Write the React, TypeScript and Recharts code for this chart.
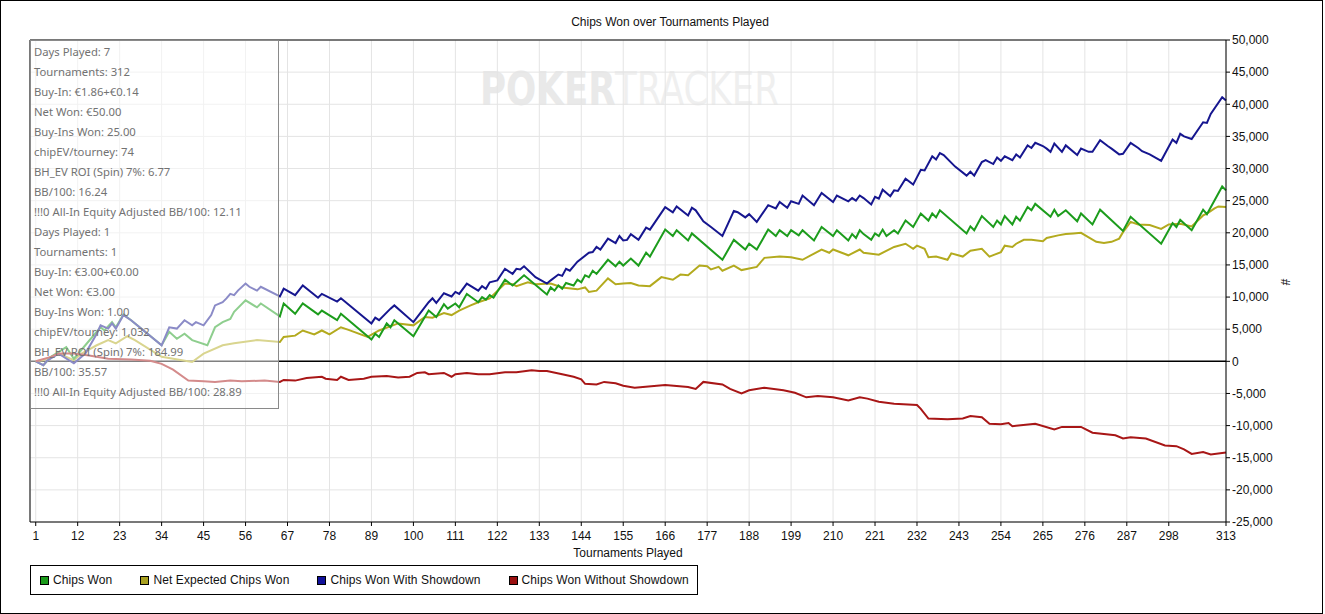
import { CartesianGrid, Line, LineChart, ReferenceLine, XAxis, YAxis } from "recharts";

// x ticks (tournament number) and y ticks (chips)
const tourneyTicks = [1, 12, 23, 34, 45, 56, 67, 78, 89, 100, 111, 122, 133, 144, 155, 166, 177, 188, 199, 210, 221, 232, 243, 254, 265, 276, 287, 298, 313];
const chipTicks = [-25000, -20000, -15000, -10000, -5000, 0, 5000, 10000, 15000, 20000, 25000, 30000, 35000, 40000, 45000, 50000];

// [tournament, chips]
const chipsWon = [
  [1, 0], [3, -600], [5, 700], [9, 2200], [11, 400], [14, 2500], [18, 5300], [19, 4800], [21, 6100], [22, 5300], [24, 7300], [26, 6400],
  [34, 2500], [36, 4600], [38, 3500], [40, 4300], [42, 3300], [46, 2500], [48, 5300], [50, 6100], [52, 6600], [53, 7700], [56, 9500],
  [59, 8400], [60, 9000], [65, 7000], [66, 9000], [69, 7400], [71, 9000], [75, 7300], [76, 7900], [80, 6400], [81, 7400], [89, 3400],
  [90, 4300], [91, 3800], [93, 5900], [94, 5300], [95, 6400], [100, 3900], [104, 7900], [106, 6900], [108, 8900], [109, 8200], [111, 9000],
  [112, 8400], [114, 10500], [117, 9200], [118, 10000], [119, 9600], [120, 10300], [121, 9900], [124, 12700], [126, 11800], [129, 13400],
  [135, 10400], [136, 11500], [137, 11000], [138, 11800], [139, 11300], [140, 12200], [142, 11800], [143, 12700], [144, 12300], [145, 13400],
  [146, 13100], [147, 14100], [148, 13600], [151, 15800], [153, 14800], [154, 15500], [155, 14900], [157, 16000], [159, 14900], [161, 16900],
  [162, 16300], [166, 20500], [168, 19500], [169, 20400], [172, 18800], [173, 19900], [181, 15800], [184, 18900], [187, 17400], [188, 18300],
  [190, 17400], [193, 20500], [195, 19500], [196, 20400], [198, 19500], [199, 20400], [201, 19600], [202, 20400], [205, 18800], [207, 20900],
  [210, 19500], [211, 20400], [214, 18800], [215, 19800], [216, 19200], [217, 20400], [218, 19800], [220, 18900], [221, 19900], [222, 19500],
  [223, 20500], [224, 19500], [226, 20400], [227, 19900], [229, 21900], [231, 20900], [233, 23000], [235, 21900], [236, 23000], [237, 22400],
  [238, 23500], [245, 19900], [246, 21000], [247, 20400], [249, 22600], [252, 20900], [253, 21900], [254, 21300], [255, 22600], [257, 21300],
  [258, 22500], [259, 21900], [261, 24000], [262, 23500], [263, 24500], [267, 22500], [268, 23600], [269, 22600], [271, 23500], [274, 21800],
  [275, 23000], [278, 21300], [280, 23600], [286, 20300], [288, 22500], [296, 18300], [299, 21500], [300, 20900], [301, 22000], [304, 20400],
  [307, 23600], [308, 22900], [312, 27200], [313, 26600],
];

const netExpected = [
  [1, 0], [3, 200], [7, 1200], [11, 200], [13, 1200], [17, 2500], [20, 3300], [22, 2800], [25, 3900], [27, 3300], [34, 700], [42, -100],
  [45, 1200], [50, 2500], [53, 2800], [59, 3300], [65, 3000], [66, 3800], [69, 4000], [71, 4800], [74, 4200], [76, 4800], [78, 4200],
  [81, 5300], [83, 4900], [88, 3800], [91, 4800], [96, 5900], [100, 5600], [103, 6900], [105, 6800], [108, 7500], [110, 7200], [112, 7900],
  [115, 8700], [117, 9200], [120, 9800], [124, 12100], [126, 12000], [127, 11700], [130, 12300], [132, 12000], [136, 12100], [139, 11500],
  [143, 11200], [145, 11500], [146, 10800], [148, 11000], [151, 12900], [153, 12000], [155, 12100], [157, 12200], [159, 11800], [162, 11700],
  [165, 13100], [168, 12700], [170, 13500], [172, 13400], [175, 14900], [177, 14800], [178, 14300], [180, 14700], [181, 14100], [184, 14900],
  [186, 14200], [190, 14700], [192, 16100], [196, 16300], [199, 16200], [202, 15800], [207, 17400], [209, 16900], [210, 17400], [214, 16500],
  [217, 17400], [218, 16900], [222, 16600], [226, 17800], [229, 18300], [231, 17500], [232, 18000], [234, 17500], [235, 16200], [237, 16300],
  [240, 15800], [241, 16800], [244, 16300], [246, 17200], [249, 17500], [251, 16300], [254, 17000], [255, 18000], [257, 17800], [258, 18300],
  [260, 18900], [262, 18900], [265, 18700], [266, 19200], [269, 19600], [271, 19800], [273, 19900], [275, 20000], [277, 19300], [279, 18600],
  [281, 18400], [283, 18600], [285, 19100], [286, 20100], [288, 21700], [290, 21300], [293, 21200], [296, 20600], [298, 21300], [301, 21400],
  [304, 21000], [307, 22700], [308, 23000], [310, 23800], [311, 24100], [313, 24000],
];

const withShowdown = [
  [1, 0], [3, -600], [4, 100], [7, 1200], [11, -300], [14, 1200], [17, 4300], [18, 5600], [20, 5100], [21, 5900], [22, 5100], [24, 7200],
  [26, 6400], [34, 2500], [36, 5300], [38, 5100], [40, 6400], [42, 5600], [43, 6100], [45, 5600], [47, 7200], [48, 8700], [50, 9200],
  [51, 9800], [52, 10500], [53, 10300], [54, 11000], [56, 12100], [57, 11600], [59, 11000], [60, 11600], [65, 10100], [66, 11300],
  [69, 10300], [71, 11800], [75, 9900], [76, 10500], [80, 9300], [81, 9800], [89, 5900], [90, 6800], [91, 6400], [94, 8200], [95, 8700],
  [100, 6100], [104, 9200], [105, 9800], [106, 9100], [108, 10600], [110, 10100], [111, 10800], [112, 10500], [114, 12100], [117, 11000],
  [118, 11700], [119, 11300], [120, 12300], [122, 12600], [124, 14400], [126, 13600], [127, 14400], [128, 14300], [129, 14800], [132, 13100],
  [135, 12100], [136, 12600], [138, 13500], [139, 13300], [140, 14400], [141, 14100], [143, 15500], [146, 16900], [147, 17000], [148, 17800],
  [149, 17400], [151, 19100], [153, 18400], [154, 19500], [155, 18800], [156, 18900], [157, 19800], [159, 18900], [161, 20800], [162, 20500],
  [166, 24000], [168, 23200], [169, 24100], [172, 22700], [173, 23900], [174, 23500], [176, 21800], [178, 20900], [181, 19500], [184, 23400],
  [185, 23200], [187, 22400], [188, 22900], [190, 21700], [193, 24300], [195, 23800], [196, 24800], [198, 23900], [199, 24900], [201, 24500],
  [202, 25800], [205, 24300], [207, 26200], [210, 24800], [211, 25800], [214, 24900], [215, 25400], [216, 25000], [217, 25800], [218, 25400],
  [220, 24400], [221, 25600], [222, 25300], [223, 26700], [225, 25700], [226, 26600], [227, 26500], [229, 28400], [231, 27500], [233, 29800],
  [234, 29700], [236, 31900], [237, 31400], [238, 32400], [239, 32100], [242, 30300], [245, 28900], [246, 29500], [247, 28900], [249, 31000],
  [250, 31300], [252, 30700], [253, 31700], [254, 31200], [255, 31900], [257, 31300], [258, 32200], [259, 31700], [261, 33600], [262, 33200],
  [263, 34000], [265, 33500], [266, 33100], [267, 32600], [268, 33900], [270, 32600], [271, 33600], [274, 32100], [275, 33100], [277, 32600],
  [278, 32600], [280, 34400], [282, 33500], [283, 33100], [285, 32200], [286, 32300], [288, 34000], [290, 33200], [291, 32700], [293, 32200],
  [296, 31200], [299, 34500], [300, 34000], [301, 35400], [302, 35000], [304, 34600], [307, 37200], [308, 37100], [309, 38500], [312, 41100],
  [313, 40600],
];

const withoutShowdown = [
  [1, 0], [5, 700], [7, 1200], [11, 1200], [15, 900], [20, 400], [26, 300], [31, 100], [34, -400], [37, -1300], [41, -3000], [45, -3100],
  [48, -3200], [52, -3000], [55, -3100], [61, -3000], [65, -3200], [66, -2900], [69, -3000], [72, -2600], [76, -2400], [77, -2700],
  [80, -2900], [81, -2400], [83, -2900], [87, -2700], [89, -2400], [93, -2300], [96, -2500], [99, -2400], [101, -1800], [103, -1700],
  [104, -2000], [108, -1800], [110, -2400], [111, -2000], [114, -1800], [117, -2000], [120, -2000], [124, -1700], [127, -1700], [131, -1400],
  [133, -1500], [135, -1500], [139, -2000], [142, -2400], [144, -2800], [145, -3500], [148, -3600], [150, -3200], [153, -3400], [155, -3800],
  [158, -4100], [166, -3700], [172, -4000], [174, -4300], [176, -3200], [181, -3600], [183, -4300], [186, -5000], [188, -4500], [192, -4100],
  [197, -4500], [200, -4900], [203, -5600], [206, -5400], [210, -5600], [214, -6100], [217, -5600], [219, -5800], [222, -6300], [226, -6600],
  [232, -6800], [233, -7400], [235, -8900], [240, -9000], [244, -8900], [246, -8500], [249, -8700], [251, -9700], [254, -9800], [256, -9600],
  [257, -10100], [263, -9700], [268, -10600], [270, -10200], [275, -10200], [278, -11100], [284, -11500], [286, -12000], [288, -11800],
  [292, -12000], [297, -13100], [300, -13200], [302, -13700], [304, -14400], [307, -14100], [309, -14500], [313, -14200],
];

const statsLines = [
  "Days Played: 7", "Tournaments: 312", "Buy-In: €1.86+€0.14", "Net Won: €50.00", "Buy-Ins Won: 25.00", "chipEV/tourney: 74",
  "BH_EV ROI (Spin) 7%: 6.77", "BB/100: 16.24", "!!!0 All-In Equity Adjusted BB/100: 12.11",
  "Days Played: 1", "Tournaments: 1", "Buy-In: €3.00+€0.00", "Net Won: €3.00", "Buy-Ins Won: 1.00", "chipEV/tourney: 1,032",
  "BH_EV ROI (Spin) 7%: 184.99", "BB/100: 35.57", "!!!0 All-In Equity Adjusted BB/100: 28.89",
];

const series = [
  { name: "Chips Won", color: "#1c9c1c", swatch: "#1a9a1a", points: chipsWon },
  { name: "Net Expected Chips Won", color: "#b3aa1e", swatch: "#a8a020", points: netExpected },
  { name: "Chips Won With Showdown", color: "#16168f", swatch: "#10109a", points: withShowdown },
  { name: "Chips Won Without Showdown", color: "#a81616", swatch: "#9a1010", points: withoutShowdown },
];
const drawOrder = [1, 0, 2, 3];

const FONT = "'Liberation Sans', Arial, sans-serif";
const MARK_FONT = "'Liberation Sans Narrow', 'DejaVu Sans Condensed', sans-serif";

export default function App() {
  return (
    <div style={{ position: "absolute", left: 0, top: 0, width: 1325, height: 614, background: "#fff", fontFamily: FONT, overflow: "hidden" }}>
      {/* watermark, behind the grid */}
      <svg width={1325} height={614} style={{ position: "absolute", left: 0, top: 0 }}>
        <g transform="translate(480,105) scale(0.86,1)" fontFamily={MARK_FONT} fontSize={46}>
          <text x={0} y={0} fontWeight="bold" fill="#e9e9e9">POKER</text>
          <text x={157} y={0} fill="#efefef">TRACKER</text>
        </g>
      </svg>
      <div style={{ position: "absolute", left: 0, top: 0 }}>
        <LineChart width={1325} height={614} margin={{ top: 40, left: 30, right: 39, bottom: 62 }} style={{ fontFamily: FONT }}>
          <CartesianGrid stroke="#e4e4e4" />
          <XAxis dataKey="t" type="number" domain={[-0.5, 313]} ticks={tourneyTicks} interval={0} height={30}
            stroke="#000" tickSize={4} tickMargin={5} tick={{ fontSize: 12, fill: "#111" }} allowDuplicatedCategory={false} />
          <YAxis orientation="right" type="number" domain={[-25000, 50000]} ticks={chipTicks} interval={0} width={60}
            stroke="#000" tickSize={4} tickMargin={2} tick={{ fontSize: 12, fill: "#111", textAnchor: "start" }}
            tickFormatter={(v: number) => v.toLocaleString("en-US")} />
          <ReferenceLine y={50000} stroke="#000" />
          <ReferenceLine x={-0.5} stroke="#000" />
          <ReferenceLine y={0} stroke="#000" strokeWidth={1.5} />
          {drawOrder.map((i) => {
            const s = series[i];
            return (
              <Line key={s.name} data={s.points.map(([t, v]) => ({ t, v }))} dataKey="v" name={s.name} type="linear"
                stroke={s.color} strokeWidth={2} dot={false} activeDot={false} isAnimationActive={false} />
            );
          })}
        </LineChart>
      </div>

      {/* stats overlay */}
      <div style={{ position: "absolute", left: 30, top: 40, width: 249, height: 369, boxSizing: "border-box", border: "1px solid #8a8a8a",
        background: "rgba(255,255,255,0.5)", padding: "1px 0 0 3px", fontFamily: "'Noto Sans', sans-serif", fontSize: 11.3, lineHeight: "20px", color: "#727272" }}>
        {statsLines.map((l, i) => <div key={i} style={{ whiteSpace: "nowrap" }}>{l}</div>)}
      </div>

      <div style={{ position: "absolute", left: 470, top: 15, width: 400, textAlign: "center", fontSize: 12, color: "#111" }}>
        Chips Won over Tournaments Played
      </div>
      <div style={{ position: "absolute", left: 30, top: 546, width: 1196, textAlign: "center", fontSize: 12, color: "#111" }}>
        Tournaments Played
      </div>
      <div style={{ position: "absolute", left: 1282, top: 275, fontSize: 12, color: "#111", transform: "rotate(90deg)" }}>#</div>

      {/* legend */}
      <div style={{ position: "absolute", left: 30, top: 565, width: 668, height: 30, boxSizing: "border-box", border: "1px solid #000",
        display: "flex", alignItems: "center", paddingLeft: 9, fontSize: 12, color: "#111", gap: 28, letterSpacing: 0.1 }}>
        {series.map((s) => (
          <div key={s.name} style={{ display: "flex", alignItems: "center", whiteSpace: "nowrap" }}>
            <span style={{ width: 9, height: 9, boxSizing: "border-box", border: "1px solid #000", background: s.swatch, marginRight: 4 }} />
            {s.name}
          </div>
        ))}
      </div>

      <div style={{ position: "absolute", left: 0, top: 0, width: 1323, height: 614, boxSizing: "border-box", border: "1px solid #000", pointerEvents: "none" }} />
    </div>
  );
}
